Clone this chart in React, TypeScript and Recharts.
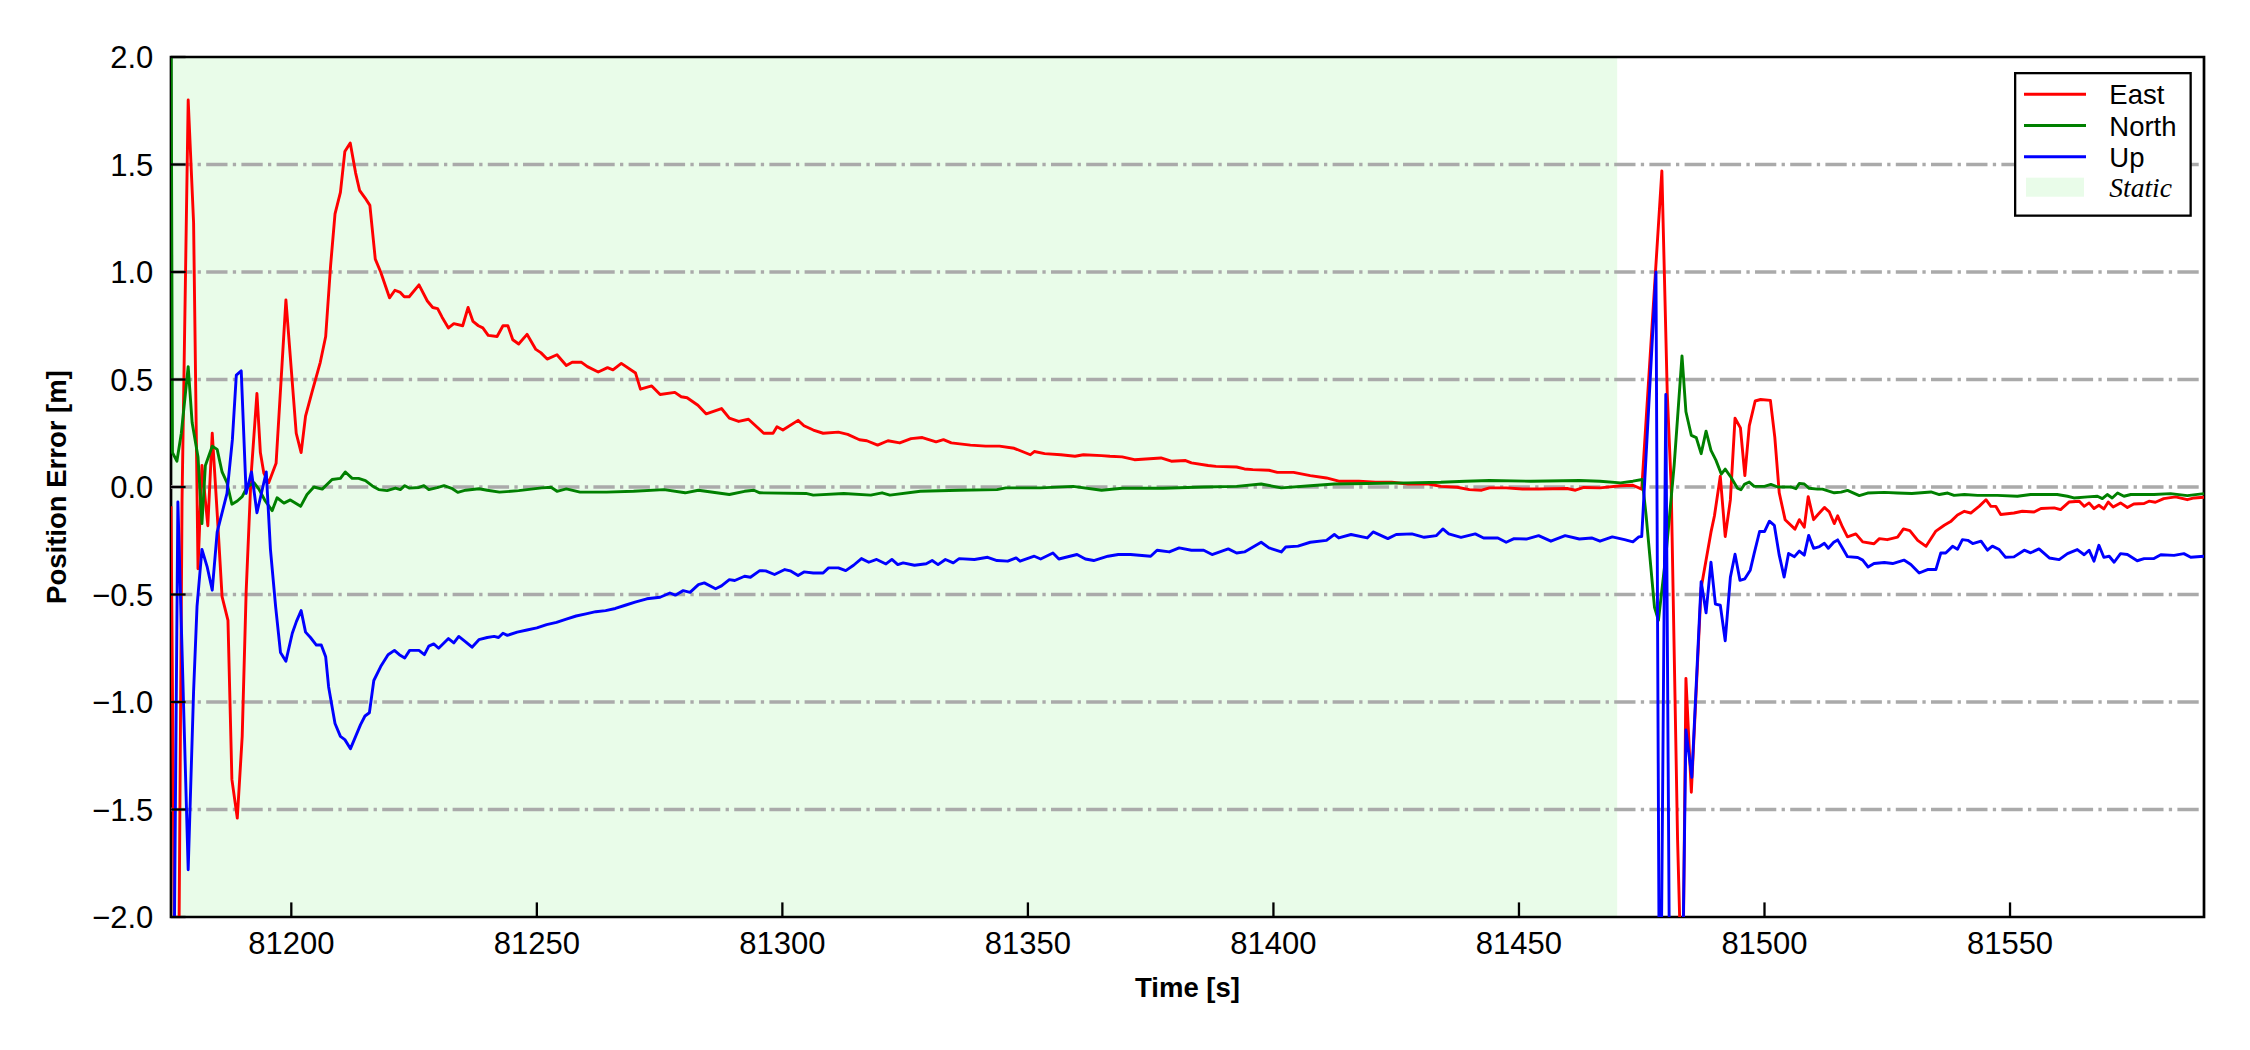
import React from 'react';
import { LineChart, Line, XAxis, YAxis, ReferenceArea, ReferenceLine, Legend } from 'recharts';

const X_DOMAIN: [number, number] = [81175.5, 81589.5];
const Y_DOMAIN: [number, number] = [-2, 2];
const X_TICKS = [81200, 81250, 81300, 81350, 81400, 81450, 81500, 81550];
const Y_TICKS = [-2, -1.5, -1, -0.5, 0, 0.5, 1, 1.5, 2];
const STATIC_START = 81175.5;
const STATIC_END = 81470;
const SERIES_NAMES = ['East', 'North', 'Up'];
const STATIC_LABEL = 'Static';
const X_LABEL = 'Time [s]';
const Y_LABEL = 'Position Error [m]';

const EAST: [number, number][] = [
  [81175.5, -0.09], [81176.7, -3.5], [81177.75, -0.06], [81179.0, 1.8], [81180.1, 1.23], [81181.0, -0.38],
  [81181.8, 0.1], [81183.0, -0.18], [81183.9, 0.25], [81184.9, -0.12], [81185.9, -0.51], [81187.1, -0.62],
  [81187.9, -1.36], [81189.0, -1.54], [81190.0, -1.16], [81190.8, -0.49], [81191.8, 0.05], [81193.0, 0.435],
  [81193.7, 0.16], [81194.4, 0.065], [81195.4, 0.02], [81196.9, 0.11], [81198.9, 0.87], [81201.0, 0.25],
  [81202.0, 0.16], [81202.9, 0.33], [81204.2, 0.44], [81205.9, 0.58], [81207.0, 0.7], [81208.0, 1.03],
  [81208.9, 1.27], [81210.0, 1.37], [81210.9, 1.56], [81212.0, 1.6], [81213.1, 1.46], [81213.9, 1.38],
  [81215.0, 1.345], [81216.0, 1.31], [81217.1, 1.06], [81218.2, 1.0], [81220.0, 0.88], [81221.1, 0.915],
  [81222.2, 0.905], [81223.0, 0.885], [81224.0, 0.885], [81226.0, 0.94], [81227.7, 0.865], [81228.8, 0.835],
  [81229.8, 0.83], [81230.7, 0.79], [81232.0, 0.74], [81233.1, 0.76], [81234.9, 0.75], [81236.0, 0.835],
  [81237.0, 0.77], [81238.1, 0.75], [81239.0, 0.74], [81240.1, 0.705], [81241.9, 0.7], [81243.1, 0.75],
  [81244.1, 0.75], [81245.1, 0.685], [81246.3, 0.665], [81248.0, 0.71], [81249.8, 0.64], [81250.8, 0.625],
  [81252.1, 0.595], [81254.1, 0.615], [81256.0, 0.565], [81257.2, 0.58], [81259.1, 0.58], [81260.3, 0.56],
  [81262.5, 0.535], [81264.4, 0.555], [81265.5, 0.545], [81267.2, 0.575], [81270.1, 0.53], [81271.1, 0.455],
  [81273.4, 0.47], [81275.1, 0.43], [81278.1, 0.44], [81279.4, 0.42], [81280.6, 0.415], [81282.8, 0.38],
  [81284.5, 0.34], [81287.6, 0.365], [81289.2, 0.32], [81291.1, 0.305], [81293.1, 0.315], [81296.2, 0.25],
  [81298.1, 0.25], [81298.9, 0.28], [81300.1, 0.265], [81303.2, 0.31], [81304.4, 0.285], [81306.3, 0.265],
  [81308.3, 0.25], [81311.4, 0.255], [81313.3, 0.245], [81315.7, 0.22], [81317.2, 0.215], [81319.4, 0.195],
  [81321.5, 0.215], [81323.9, 0.205], [81326.2, 0.225], [81328.5, 0.23], [81331.3, 0.21], [81332.8, 0.22],
  [81334.4, 0.205], [81338.3, 0.195], [81341.4, 0.19], [81344.2, 0.19], [81347.2, 0.18], [81350.5, 0.15],
  [81351.3, 0.165], [81353.4, 0.155], [81356.7, 0.15], [81359.6, 0.143], [81361.3, 0.15], [81365.0, 0.146],
  [81366.7, 0.143], [81369.2, 0.14], [81371.7, 0.127], [81377.1, 0.135], [81379.2, 0.12], [81382.1, 0.123],
  [81383.3, 0.112], [81386.7, 0.1], [81388.3, 0.096], [81392.5, 0.093], [81394.1, 0.084], [81395.8, 0.081],
  [81399.1, 0.078], [81400.8, 0.068], [81404.1, 0.068], [81407.5, 0.053], [81410.8, 0.042], [81413.3, 0.027],
  [81417.4, 0.027], [81420.8, 0.022], [81424.1, 0.022], [81427.4, 0.014], [81431.6, 0.014], [81434.1, 0.003],
  [81437.4, -0.001], [81439.9, -0.012], [81442.4, -0.015], [81444.0, -0.004], [81447.4, -0.004], [81450.7, -0.009],
  [81454.0, -0.009], [81459.8, -0.007], [81461.5, -0.015], [81463.2, -0.002], [81466.5, -0.004], [81470.7, 0.006],
  [81473.2, 0.008], [81475.0, -0.01], [81479.1, 1.47], [81480.2, 0.435], [81481.0, 0.003], [81482.3, -1.64],
  [81483.3, -2.5], [81484.0, -0.89], [81485.1, -1.42], [81487.1, -0.47], [81489.1, -0.21], [81489.8, -0.135],
  [81491.0, 0.05], [81492.0, -0.23], [81493.05, -0.06], [81494.0, 0.32], [81495.1, 0.275], [81496.0, 0.053],
  [81496.9, 0.284], [81498.1, 0.4], [81499.2, 0.407], [81501.2, 0.403], [81502.1, 0.231], [81503.0, -0.027],
  [81504.2, -0.152], [81506.2, -0.196], [81507.1, -0.152], [81508.1, -0.187], [81508.9, -0.045], [81510.0, -0.152],
  [81510.8, -0.13], [81512.2, -0.095], [81513.2, -0.116], [81514.2, -0.17], [81514.9, -0.134], [81515.9, -0.187],
  [81516.9, -0.232], [81518.6, -0.218], [81520.0, -0.255], [81522.3, -0.264], [81523.4, -0.24], [81525.0, -0.245],
  [81527.1, -0.233], [81528.3, -0.195], [81529.6, -0.203], [81531.2, -0.248], [81532.9, -0.276], [81534.9, -0.205],
  [81536.6, -0.178], [81537.9, -0.161], [81539.3, -0.13], [81540.7, -0.113], [81542.0, -0.121], [81543.7, -0.09],
  [81545.1, -0.059], [81546.1, -0.09], [81547.1, -0.09], [81548.1, -0.128], [81550.8, -0.121], [81552.5, -0.113],
  [81554.9, -0.116], [81556.3, -0.1], [81559.0, -0.097], [81560.3, -0.105], [81562.0, -0.07], [81564.1, -0.066],
  [81565.1, -0.09], [81566.1, -0.074], [81567.1, -0.1], [81568.1, -0.085], [81569.1, -0.102], [81570.0, -0.07],
  [81571.0, -0.093], [81572.5, -0.074], [81573.9, -0.095], [81575.2, -0.079], [81577.3, -0.077], [81578.3, -0.066],
  [81579.6, -0.071], [81581.3, -0.054], [81583.7, -0.046], [81586.1, -0.059], [81587.5, -0.051], [81589.5, -0.048],
];

const NORTH: [number, number][] = [
  [81175.5, 2.3], [81175.8, 0.16], [81176.7, 0.12], [81177.6, 0.25], [81179.0, 0.56], [81179.8, 0.3],
  [81181.0, 0.14], [81181.8, -0.17], [81182.5, 0.1], [81183.9, 0.19], [81184.9, 0.175], [81185.9, 0.07],
  [81186.9, 0.02], [81187.9, -0.08], [81189.0, -0.065], [81190.0, -0.045], [81191.0, 0.0], [81192.4, 0.02],
  [81193.4, -0.01], [81194.7, -0.065], [81196.1, -0.11], [81197.1, -0.05], [81198.5, -0.075], [81199.8, -0.06],
  [81201.9, -0.09], [81203.2, -0.035], [81204.6, 0.0], [81206.3, -0.01], [81208.3, 0.035], [81210.0, 0.04],
  [81211.0, 0.07], [81212.4, 0.04], [81213.7, 0.04], [81215.1, 0.03], [81216.5, 0.005], [81217.8, -0.012],
  [81219.5, -0.017], [81221.2, -0.005], [81222.2, -0.012], [81223.1, 0.006], [81224.0, -0.005], [81226.0, -0.002],
  [81227.0, 0.006], [81228.0, -0.012], [81229.7, -0.003], [81231.1, 0.006], [81232.8, -0.008], [81233.9, -0.025],
  [81235.5, -0.015], [81238.2, -0.008], [81239.9, -0.015], [81242.4, -0.024], [81246.3, -0.017], [81251.0, -0.004],
  [81252.9, -0.001], [81254.1, -0.02], [81256.0, -0.009], [81258.8, -0.024], [81264.2, -0.024], [81269.7, -0.02],
  [81275.9, -0.012], [81280.2, -0.027], [81282.9, -0.015], [81289.2, -0.035], [81292.3, -0.02], [81294.2, -0.015],
  [81295.4, -0.027], [81304.8, -0.03], [81306.3, -0.038], [81312.5, -0.03], [81318.0, -0.038], [81320.3, -0.027],
  [81321.9, -0.038], [81328.1, -0.02], [81336.0, -0.015], [81343.7, -0.012], [81345.5, -0.004], [81352.6, -0.004],
  [81359.2, 0.003], [81365.0, -0.015], [81369.2, -0.006], [81377.5, -0.006], [81385.8, 0.0], [81392.5, 0.003],
  [81397.5, 0.014], [81401.6, -0.004], [81407.5, 0.006], [81412.4, 0.014], [81419.1, 0.016], [81427.4, 0.019],
  [81434.1, 0.022], [81439.1, 0.027], [81444.0, 0.03], [81452.4, 0.027], [81462.3, 0.03], [81466.5, 0.027],
  [81470.7, 0.019], [81473.2, 0.027], [81475.1, 0.035], [81475.9, -0.134], [81477.6, -0.56], [81478.4, -0.62],
  [81480.0, -0.3], [81481.6, 0.1], [81483.2, 0.61], [81484.0, 0.35], [81485.1, 0.24], [81486.1, 0.23],
  [81487.1, 0.155], [81488.1, 0.26], [81489.1, 0.17], [81490.1, 0.125], [81491.2, 0.06], [81492.0, 0.083],
  [81493.2, 0.044], [81494.5, -0.006], [81495.2, -0.013], [81495.9, 0.012], [81496.9, 0.023], [81497.9, 0.003],
  [81500.0, 0.003], [81501.3, 0.012], [81502.7, 0.0], [81505.4, 0.0], [81506.4, -0.008], [81507.1, 0.017],
  [81508.1, 0.014], [81509.1, -0.006], [81510.8, -0.01], [81511.8, -0.01], [81514.2, -0.027], [81515.6, -0.024],
  [81516.9, -0.016], [81519.3, -0.04], [81521.0, -0.028], [81524.4, -0.025], [81527.1, -0.028], [81530.0, -0.03],
  [81533.9, -0.023], [81535.6, -0.035], [81537.3, -0.028], [81538.6, -0.039], [81540.7, -0.035], [81543.4, -0.039],
  [81547.4, -0.039], [81551.5, -0.043], [81554.2, -0.035], [81556.9, -0.035], [81559.6, -0.035], [81561.7, -0.043],
  [81563.0, -0.051], [81565.8, -0.046], [81567.8, -0.043], [81568.8, -0.054], [81569.8, -0.035], [81570.8, -0.051],
  [81571.9, -0.028], [81573.2, -0.043], [81574.6, -0.035], [81579.3, -0.035], [81582.7, -0.031], [81586.1, -0.04],
  [81589.5, -0.031],
];

const UP: [number, number][] = [
  [81175.5, -4.0], [81176.9, -0.07], [81179.0, -1.78], [81180.1, -0.95], [81180.8, -0.555], [81181.8, -0.29],
  [81182.85, -0.37], [81183.9, -0.48], [81184.9, -0.21], [81186.9, -0.03], [81188.0, 0.22], [81188.8, 0.52],
  [81189.8, 0.54], [81190.8, -0.03], [81191.9, 0.07], [81193.0, -0.12], [81194.9, 0.07], [81195.75, -0.29],
  [81196.8, -0.555], [81197.8, -0.77], [81198.9, -0.81], [81200.2, -0.68], [81201.05, -0.625], [81202.0, -0.575],
  [81202.9, -0.675], [81203.9, -0.7], [81205.1, -0.735], [81206.1, -0.735], [81207.0, -0.79], [81207.6, -0.93],
  [81208.9, -1.1], [81210.0, -1.16], [81210.9, -1.175], [81212.05, -1.217], [81213.1, -1.16], [81214.1, -1.105],
  [81215.0, -1.065], [81215.9, -1.05], [81216.8, -0.9], [81218.2, -0.835], [81219.7, -0.78], [81221.0, -0.76],
  [81222.0, -0.78], [81223.1, -0.795], [81224.1, -0.76], [81226.0, -0.76], [81227.1, -0.78], [81228.0, -0.74],
  [81229.0, -0.73], [81230.0, -0.75], [81232.0, -0.705], [81233.1, -0.725], [81234.1, -0.695], [81235.5, -0.72],
  [81236.8, -0.745], [81238.2, -0.71], [81239.9, -0.7], [81241.3, -0.695], [81242.2, -0.7], [81243.1, -0.68],
  [81244.0, -0.69], [81246.0, -0.675], [81248.0, -0.665], [81250.0, -0.655], [81252.0, -0.64], [81254.0, -0.63],
  [81256.0, -0.615], [81258.0, -0.6], [81260.0, -0.59], [81262.0, -0.58], [81264.0, -0.575], [81266.0, -0.565],
  [81268.0, -0.55], [81270.0, -0.535], [81272.4, -0.52], [81275.1, -0.513], [81277.1, -0.493], [81278.2, -0.503],
  [81279.8, -0.482], [81281.2, -0.49], [81282.9, -0.454], [81284.1, -0.446], [81286.4, -0.473], [81287.6, -0.46],
  [81289.2, -0.431], [81290.3, -0.435], [81292.3, -0.415], [81293.5, -0.42], [81295.4, -0.389], [81296.6, -0.39],
  [81298.4, -0.407], [81300.5, -0.384], [81301.6, -0.39], [81303.2, -0.412], [81304.4, -0.395], [81306.3, -0.4],
  [81308.3, -0.4], [81309.4, -0.376], [81311.4, -0.376], [81312.9, -0.389], [81314.5, -0.364], [81316.1, -0.333],
  [81317.6, -0.35], [81319.2, -0.337], [81321.1, -0.358], [81322.3, -0.337], [81323.5, -0.361], [81324.6, -0.353],
  [81326.9, -0.364], [81329.3, -0.357], [81330.5, -0.342], [81331.7, -0.361], [81333.2, -0.337], [81334.8, -0.353],
  [81336.0, -0.333], [81339.1, -0.337], [81341.8, -0.327], [81343.7, -0.342], [81345.9, -0.345], [81347.6, -0.33],
  [81348.4, -0.345], [81351.3, -0.322], [81352.6, -0.335], [81355.1, -0.307], [81356.3, -0.335], [81360.0, -0.314],
  [81361.7, -0.335], [81363.4, -0.342], [81366.3, -0.322], [81368.4, -0.314], [81370.9, -0.314], [81375.0, -0.322],
  [81376.3, -0.294], [81378.8, -0.302], [81380.8, -0.283], [81383.3, -0.294], [81385.8, -0.294], [81387.5, -0.314],
  [81390.8, -0.288], [81392.5, -0.307], [81394.1, -0.302], [81397.5, -0.257], [81399.1, -0.283], [81401.6, -0.302],
  [81402.5, -0.279], [81405.0, -0.275], [81407.5, -0.257], [81410.8, -0.248], [81412.4, -0.221], [81413.3, -0.237],
  [81415.8, -0.221], [81419.1, -0.237], [81420.3, -0.209], [81423.3, -0.24], [81425.0, -0.221], [81428.2, -0.218],
  [81430.7, -0.234], [81433.2, -0.226], [81434.5, -0.195], [81435.7, -0.218], [81438.2, -0.234], [81441.1, -0.218],
  [81442.8, -0.237], [81445.7, -0.237], [81447.4, -0.257], [81449.0, -0.24], [81451.5, -0.242], [81454.0, -0.226],
  [81456.5, -0.252], [81459.4, -0.226], [81462.3, -0.242], [81464.8, -0.237], [81466.5, -0.252], [81469.0, -0.232],
  [81471.5, -0.245], [81473.2, -0.255], [81474.4, -0.232], [81475.0, -0.23], [81477.9, 1.0], [81478.7, -3.0],
  [81479.9, 0.43], [81481.0, -3.5], [81482.6, -3.5], [81484.0, -1.13], [81485.2, -1.35], [81487.1, -0.44],
  [81488.1, -0.585], [81489.1, -0.35], [81490.0, -0.545], [81491.0, -0.55], [81492.0, -0.715], [81493.05, -0.42],
  [81494.0, -0.313], [81495.0, -0.434], [81496.0, -0.427], [81497.1, -0.387], [81497.9, -0.309], [81499.0, -0.207],
  [81500.0, -0.207], [81501.0, -0.159], [81502.0, -0.178], [81503.0, -0.317], [81504.0, -0.419], [81504.9, -0.309],
  [81506.1, -0.324], [81507.1, -0.298], [81508.1, -0.317], [81509.0, -0.225], [81510.0, -0.285], [81511.2, -0.277],
  [81512.2, -0.262], [81513.0, -0.285], [81514.1, -0.257], [81514.9, -0.246], [81515.9, -0.285], [81516.9, -0.324],
  [81519.0, -0.328], [81520.0, -0.34], [81521.1, -0.372], [81522.3, -0.356], [81524.4, -0.351], [81526.1, -0.356],
  [81528.4, -0.34], [81529.8, -0.36], [81531.5, -0.4], [81533.2, -0.384], [81534.9, -0.384], [81535.9, -0.307],
  [81536.9, -0.307], [81538.3, -0.276], [81539.3, -0.29], [81540.3, -0.245], [81541.4, -0.248], [81542.4, -0.263],
  [81544.1, -0.252], [81545.4, -0.294], [81546.4, -0.275], [81547.8, -0.291], [81549.1, -0.327], [81550.8, -0.325],
  [81552.9, -0.294], [81554.2, -0.306], [81555.9, -0.288], [81558.0, -0.33], [81560.0, -0.338], [81561.7, -0.31],
  [81563.7, -0.291], [81565.1, -0.315], [81566.1, -0.294], [81567.1, -0.345], [81568.1, -0.271], [81569.1, -0.327],
  [81570.2, -0.322], [81571.2, -0.35], [81572.5, -0.31], [81573.9, -0.314], [81575.9, -0.343], [81577.3, -0.333],
  [81579.3, -0.333], [81580.7, -0.315], [81583.4, -0.318], [81585.4, -0.31], [81586.8, -0.327], [81589.5, -0.322],
];

const COLORS = ['#ff0000', '#008000', '#0000ff'];
const STATIC_FILL = '#e9fce9';
const GRID_COLOR = '#aaaaaa';
const FONT = '"Liberation Sans", Arial, Helvetica, sans-serif';
const SERIF = '"Liberation Serif", "Times New Roman", serif';

const toRows = (pts: [number, number][]) => pts.map(([t, v]) => ({ t, v }));
const SERIES = [EAST, NORTH, UP].map(toRows);
const GRID_VALUES = Y_TICKS.filter((v) => v > Y_DOMAIN[0] && v < Y_DOMAIN[1]);

const fmtY = (v: number) => (v < 0 ? '\u2212' : '') + Math.abs(v).toFixed(1);

const XLabel = (props: any) => {
  const vb = props.viewBox || {};
  return (
    <text x={vb.x + vb.width / 2} y={vb.y + 80} textAnchor="middle" fontFamily={FONT} fontWeight="bold" fontSize={27.5} fill="#000">
      {X_LABEL}
    </text>
  );
};

const YLabel = (props: any) => {
  const vb = props.viewBox || {};
  const x = vb.x - 5;
  const y = vb.y + vb.height / 2;
  return (
    <text x={x} y={y} transform={`rotate(-90, ${x}, ${y})`} textAnchor="middle" fontFamily={FONT} fontWeight="bold" fontSize={27.5} fill="#000">
      {Y_LABEL}
    </text>
  );
};

const LegendBox = () => {
  const rows = [22.3, 53.5, 84.7];
  return (
    <svg width={178} height={145} style={{ display: 'block' }}>
      <rect x={1.15} y={1.15} width={175.5} height={142.5} fill="#fff" stroke="#000" strokeWidth={2.3} />
      {SERIES_NAMES.map((name, i) => (
        <g key={name}>
          <line x1={10} x2={72} y1={rows[i]} y2={rows[i]} stroke={COLORS[i]} strokeWidth={2.9} />
          <text x={95.3} y={rows[i] + 10} fontFamily={FONT} fontSize={27.5} fill="#000">{name}</text>
        </g>
      ))}
      <rect x={12} y={105.7} width={58} height={19} fill={STATIC_FILL} />
      <text x={95.3} y={124.7} fontFamily={SERIF} fontStyle="italic" fontSize={27.5} fill="#000">{STATIC_LABEL}</text>
    </svg>
  );
};

const tickStyle = { fill: '#000', fontSize: 31, fontFamily: FONT };

export default function App() {
  return (
    <div style={{ position: 'absolute', left: 0, top: 0, width: 2250, height: 1050, background: '#fff' }}>
      <LineChart width={2250} height={1050} margin={{ top: 57, right: 46, bottom: 73, left: 71 }}>
        <ReferenceArea x1={STATIC_START} x2={STATIC_END} y1={Y_DOMAIN[0]} y2={Y_DOMAIN[1]} fill={STATIC_FILL} fillOpacity={1} stroke="none" ifOverflow="hidden" />
        {GRID_VALUES.map((v) => (
          <ReferenceLine
            key={`grid-${v}`}
            y={v}
            stroke={GRID_COLOR}
            strokeWidth={3.3}
            strokeDasharray="21.3 5.3 3.3 5.3"
            ifOverflow="visible"
          />
        ))}
        <XAxis
          dataKey="t"
          type="number"
          domain={X_DOMAIN}
          ticks={X_TICKS}
          interval={0}
          allowDataOverflow
          height={60}
          axisLine={false}
          tickLine={{ stroke: '#000', strokeWidth: 2.3 }}
          tickSize={-14.6}
          tickMargin={29.6}
          tick={tickStyle}
          tickFormatter={(v: number) => String(v)}
          label={XLabel}
        />
        <YAxis
          type="number"
          domain={Y_DOMAIN}
          ticks={Y_TICKS}
          interval={0}
          allowDataOverflow
          width={100}
          axisLine={false}
          tickLine={{ stroke: '#000', strokeWidth: 2.3 }}
          tickSize={-14.6}
          tickMargin={32.3}
          tick={tickStyle}
          tickFormatter={fmtY}
          label={YLabel}
        />
        {SERIES.map((rows, i) => (
          <Line
            key={SERIES_NAMES[i]}
            data={rows}
            dataKey="v"
            name={SERIES_NAMES[i]}
            type="linear"
            stroke={COLORS[i]}
            strokeWidth={2.9}
            strokeLinejoin="round"
            dot={false}
            activeDot={false}
            isAnimationActive={false}
          />
        ))}
        <ReferenceArea x1={X_DOMAIN[0]} x2={X_DOMAIN[1]} y1={Y_DOMAIN[0]} y2={Y_DOMAIN[1]} fill="none" stroke="#000" strokeWidth={2.7} ifOverflow="visible" />
        <Legend
          layout="horizontal"
          verticalAlign="middle"
          align="center"
          wrapperStyle={{ left: 2014, top: 72, width: 178, height: 145 }}
          content={() => <LegendBox />}
        />
      </LineChart>
    </div>
  );
}
